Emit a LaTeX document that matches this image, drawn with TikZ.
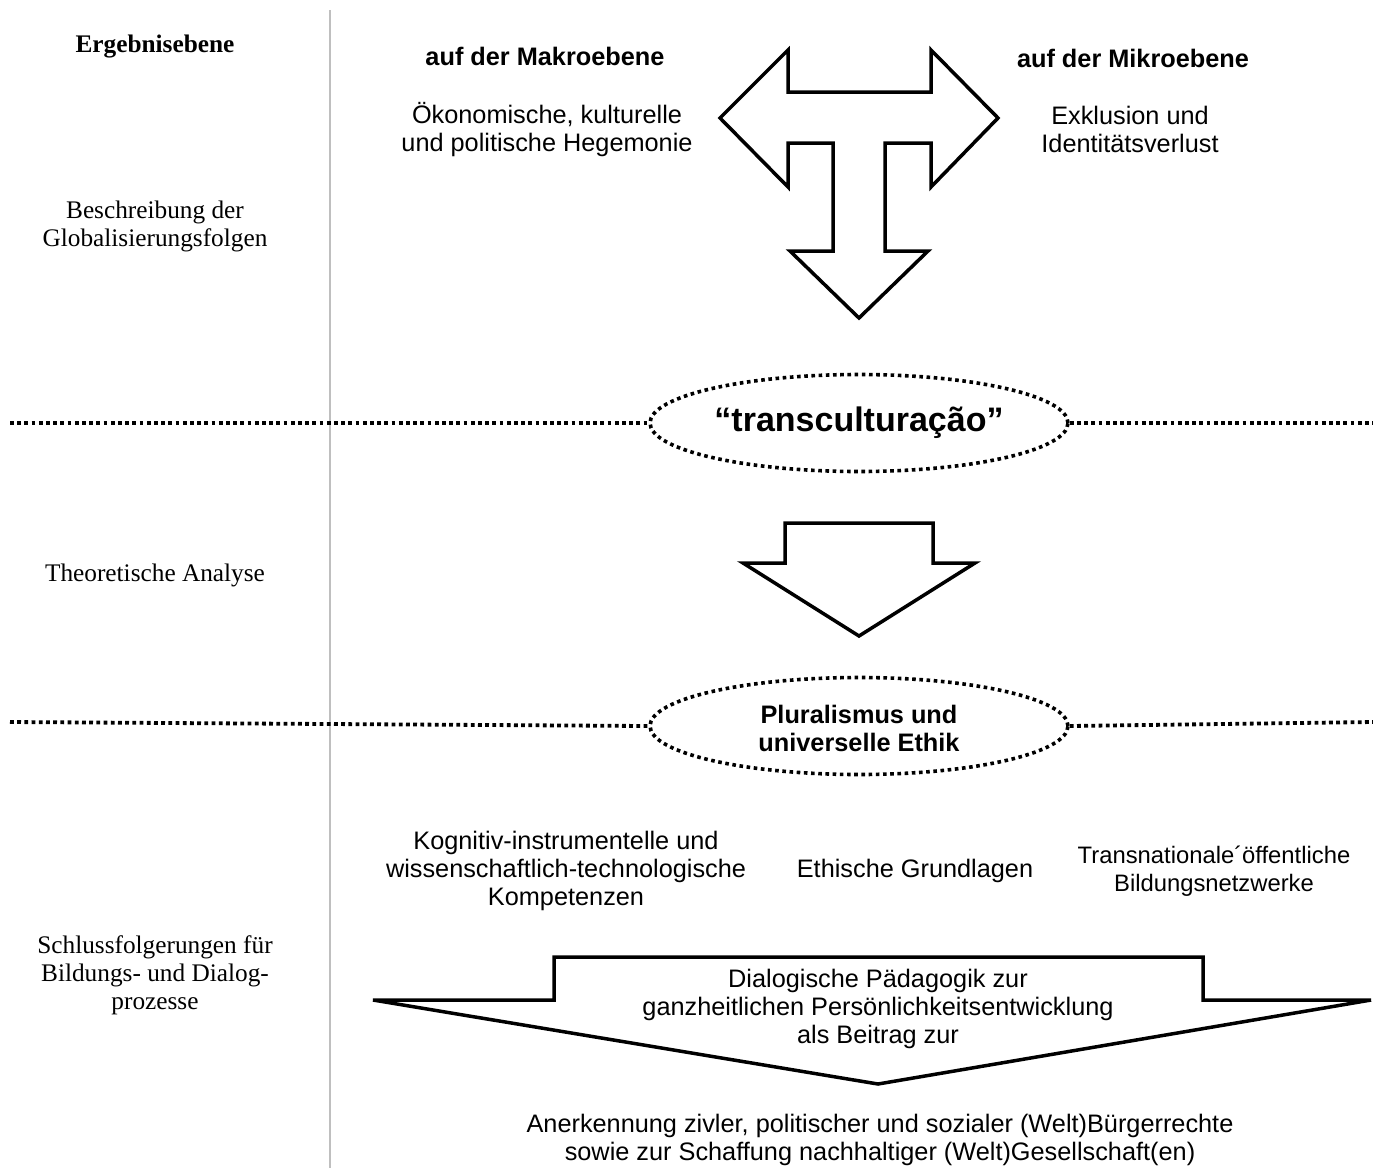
\documentclass[tikz,border=0pt]{standalone}
\usepackage{fontspec}
\setmainfont{Liberation Serif}
\setsansfont{Liberation Sans}
\usetikzlibrary{shapes.geometric}
\begin{document}
\begin{tikzpicture}[x=1pt,y=-1pt,
  lefttext/.style={font=\fontsize{25.3}{28}\selectfont\rmfamily, align=center},
  sanstext/.style={font=\fontsize{25.3}{28}\selectfont\sffamily, align=center},
  sansbold/.style={font=\fontsize{25.3}{28}\selectfont\sffamily\bfseries, align=center},
  dotline/.style={line width=3.8pt, dash pattern=on 3.8pt off 3.4pt},
  dotell/.style={ellipse, draw, line width=3.6pt, dash pattern=on 3.6pt off 3.6pt, minimum width=418pt, minimum height=97pt, inner sep=0pt, fill=white},
  bigarrow/.style={draw, line width=3.5pt, line join=miter, fill=white}
]
\useasboundingbox (0,0) rectangle (1373,1168);
% vertical separator
\coordinate (vt) at (330,10);
\coordinate (vb) at (330,1168);
\draw[line width=1.4pt, color=black!25] (vt) -- (vb);

% left column
\node[lefttext, font=\fontsize{25.3}{28}\selectfont\rmfamily\bfseries] (erg) at (155,47) {Ergebnisebene};
\node[lefttext] (besch) at (155,226) {Beschreibung der\\Globalisierungsfolgen};
\node[lefttext] (theo) at (155,575) {Theoretische Analyse};
\node[lefttext] (schl) at (155,975) {Schlussfolgerungen für\\Bildungs- und Dialog-\\prozesse};

% T arrow
\draw[bigarrow] (720,118) -- (788,50) -- (788,92) -- (931,92) -- (931,50) -- (998,118)
  -- (931,187) -- (931,143) -- (885,143) -- (885,251) -- (928,251) -- (859,318)
  -- (790,251) -- (833,251) -- (833,143) -- (788,143) -- (788,187) -- cycle;

\node[sansbold] (makro) at (545,56) {auf der Makroebene};
\node[sanstext] (oek) at (547,130) {Ökonomische, kulturelle\\und politische Hegemonie};
\node[sansbold] (mikro) at (1133,58) {auf der Mikroebene};
\node[sanstext] (exk) at (1130,129) {Exklusion und\\Identitätsverlust};

% first dotted line with ellipse
\node[dotell] (trans) at (859,423) {};
\node[font=\fontsize{34}{40}\selectfont\sffamily\bfseries] (translabel) at (859,423) {“transculturação”};
\coordinate (l1) at (10,423);
\coordinate (r1) at (1373,423);
\draw[dotline] (l1) -- (trans.west);
\draw[dotline] (trans.east) -- (r1);

% middle arrow
\draw[bigarrow] (785,523) -- (933,523) -- (933,563) -- (975,563) -- (859,636)
  -- (743,563) -- (785,563) -- cycle;

% second dotted line with ellipse
\node[dotell] (plur) at (859,726) {};
\node[sansbold] (plurlabel) at (859,728) {Pluralismus und\\universelle Ethik};
\coordinate (l2) at (10,722);
\coordinate (r2) at (1373,722);
\draw[dotline] (l2) -- (plur.west);
\draw[dotline] (plur.east) -- (r2);

% three items
\node[sanstext] (kog) at (566,871) {Kognitiv-instrumentelle und\\wissenschaftlich-technologische\\Kompetenzen};
\node[sanstext] (eth) at (915,871) {Ethische Grundlagen};
\node[sanstext, font=\fontsize{23.8}{28}\selectfont\sffamily] (transn) at (1214,871) {Transnationale´öffentliche\\Bildungsnetzwerke};

% bottom arrow
\draw[bigarrow] (554,957) -- (1203,957) -- (1203,1000) -- (1371,1000) -- (878,1084)
  -- (373,1000) -- (554,1000) -- cycle;
\node[sanstext] (dial) at (878,1009) {Dialogische Pädagogik zur\\ganzheitlichen Persönlichkeitsentwicklung\\als Beitrag zur};

\node[sanstext] (aner) at (880,1140) {Anerkennung zivler, politischer und sozialer (Welt)Bürgerrechte\\sowie zur Schaffung nachhaltiger (Welt)Gesellschaft(en)};
\end{tikzpicture}
\end{document}
